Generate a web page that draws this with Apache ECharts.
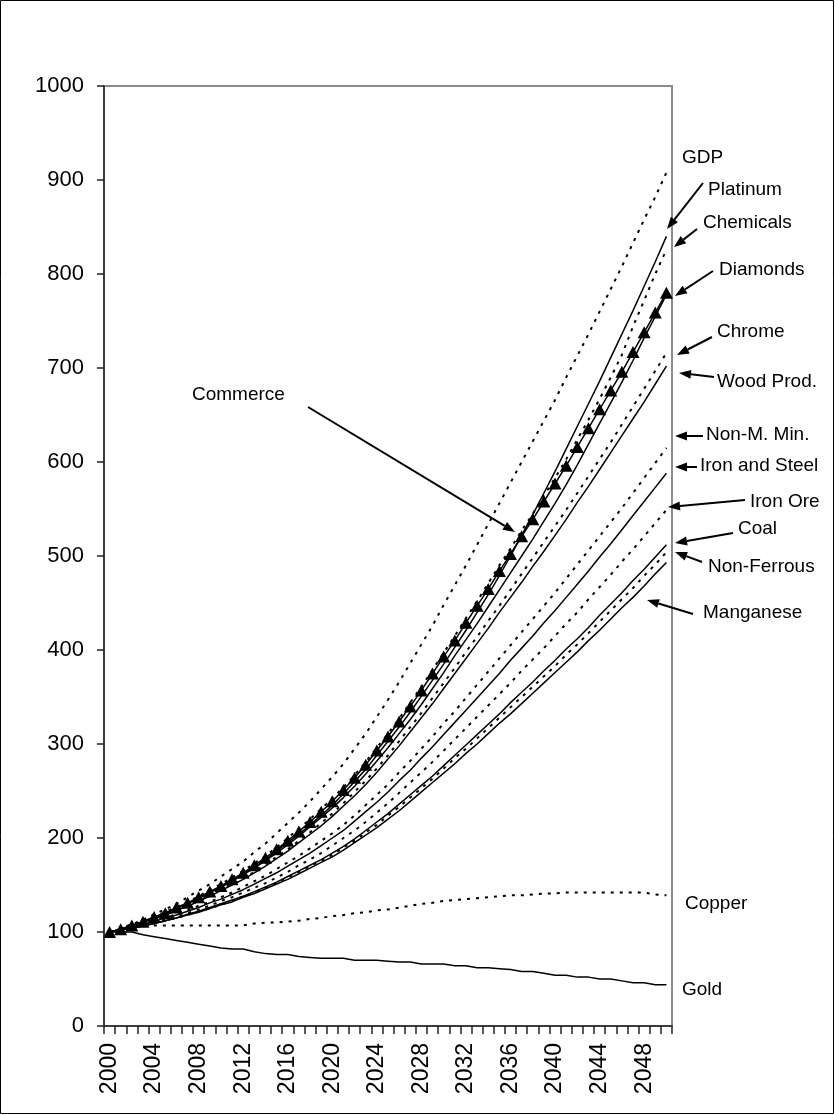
<!DOCTYPE html>
<html>
<head>
<meta charset="utf-8">
<script src="https://cdn.jsdelivr.net/npm/echarts@6/dist/echarts.min.js"></script>
<style>
html, body { margin: 0; padding: 0; background: #fff; }
#chart { width: 835px; height: 1115px; }
</style>
</head>
<body>
<div id="chart"></div>
<script>
// categories
const years = ['2000','2001','2002','2003','2004','2005','2006','2007','2008','2009',
  '2010','2011','2012','2013','2014','2015','2016','2017','2018','2019',
  '2020','2021','2022','2023','2024','2025','2026','2027','2028','2029',
  '2030','2031','2032','2033','2034','2035','2036','2037','2038','2039',
  '2040','2041','2042','2043','2044','2045','2046','2047','2048','2049','2050']

// index values (2000 = 100)
const gdp = [100,104,108,113,119,124,130,137,144,151,159,167,175,185,194,205,216,227,239,252,265,279,295,311,329,347,366,386,406,426,448,469,490,512,534,556,578,600,622,644,666,690,713,736,760,784,808,833,858,882,908]
const platinum = [100,103,107,111,115,120,125,130,136,142,148,155,162,169,177,186,195,204,214,224,235,247,260,273,288,303,318,334,351,368,385,403,421,440,459,479,500,522,544,567,590,614,638,662,686,711,736,761,787,813,840]
const chemicals = [100,104,108,112,117,121,127,132,138,145,151,158,165,173,181,190,200,210,220,231,242,254,267,281,296,311,327,344,361,379,397,415,434,452,471,490,508,527,545,564,583,603,624,645,667,690,714,744,772,800,826]
const commerce = [100,103,107,111,116,120,126,131,137,143,149,156,163,171,179,188,197,207,217,228,239,251,264,278,293,308,324,340,357,375,393,410,429,447,465,484,502,521,539,558,577,596,616,636,656,676,696,717,738,759,780]
const diamonds = [100,103,107,111,116,120,125,130,136,142,148,154,161,168,176,184,193,202,212,222,232,243,255,268,282,296,311,326,342,359,376,394,411,428,446,464,482,500,518,537,556,576,597,619,641,663,685,708,732,755,778]
const chrome = [100,103,106,110,114,118,123,128,133,139,145,151,157,164,172,180,188,197,206,216,226,237,249,261,274,288,303,318,333,349,365,381,398,414,431,447,464,481,498,515,532,549,567,585,603,621,640,659,678,697,716]
const woodProd = [100,103,106,110,114,118,123,127,133,138,144,150,156,163,170,178,186,195,204,213,223,234,245,257,270,284,298,313,328,343,359,375,391,407,423,440,456,472,489,505,522,539,557,574,592,610,628,646,664,683,702]
const nonMMin = [100,103,105,108,112,115,119,123,128,132,137,142,148,154,160,167,174,181,189,197,205,214,224,235,246,257,270,282,295,308,322,335,349,363,377,391,405,419,433,447,461,476,491,506,521,536,551,567,583,599,615]
const ironSteel = [100,102,105,108,111,115,118,122,126,131,135,140,145,151,157,163,170,177,184,192,200,208,218,228,238,249,261,272,285,297,310,323,336,349,362,375,389,402,415,429,442,456,470,484,499,513,528,543,558,573,588]
const ironOre = [100,102,105,107,110,113,117,120,124,128,133,137,142,147,152,158,164,171,177,184,192,200,208,217,227,237,248,259,270,281,293,305,317,329,341,353,365,378,390,402,415,428,440,454,467,480,494,507,521,535,549]
const coal = [100,102,104,107,109,112,115,119,122,126,130,134,138,143,148,153,159,165,171,177,184,191,199,208,217,226,236,246,256,266,277,288,299,310,321,332,344,355,366,378,389,401,412,424,437,449,461,474,486,499,512]
const nonFerrous = [100,102,104,107,109,112,115,118,122,125,129,133,138,142,147,152,158,164,170,176,182,190,197,206,214,224,233,243,253,263,274,285,295,306,317,328,339,350,361,372,383,395,406,418,430,442,454,466,479,491,504]
const manganese = [100,102,104,106,109,112,115,118,121,125,129,132,137,141,146,151,156,162,168,174,180,187,195,203,211,220,229,239,249,259,269,279,290,300,311,322,332,343,354,365,376,387,398,410,421,433,445,456,468,481,493]
const copper = [100,103,106,107,107,107,107,107,107,107,107,107,107,109,110,110,111,112,114,115,117,118,120,121,123,124,126,128,130,131,133,134,135,136,137,138,139,139,140,141,141,142,142,142,142,142,142,142,142,140,139]
const gold = [100,100,100,97,95,93,91,89,87,85,83,82,82,79,77,76,76,74,73,72,72,72,70,70,70,69,68,68,66,66,66,64,64,62,62,61,60,58,58,56,54,54,52,52,50,50,48,46,46,44,44]

const FONT = '"Liberation Sans", Arial, sans-serif'

function solid(name, data) {
    return {
        name: name, type: 'line', data: data, symbol: 'none', silent: true,
        lineStyle: { color: '#000', width: 1.5 }
    }
}
function dotted(name, data) {
    return {
        name: name, type: 'line', data: data, symbol: 'none', silent: true,
        lineStyle: { color: '#000', width: 2, type: [3, 6] }
    }
}

// annotation labels: [text, left x, middle y]
const labels = [
    ['GDP', 682, 158], ['Platinum', 708, 190], ['Chemicals', 703, 223],
    ['Diamonds', 719, 270], ['Chrome', 717, 332], ['Wood Prod.', 717, 382],
    ['Non-M. Min.', 706, 435], ['Iron and Steel', 700, 466], ['Iron Ore', 750, 502],
    ['Coal', 738, 529], ['Non-Ferrous', 708, 567], ['Manganese', 703, 613],
    ['Commerce', 192, 395], ['Copper', 685, 904], ['Gold', 682, 990]
]
// arrows: tail -> head
const arrows = [
    [703, 183, 667, 229], [697, 229, 674, 247], [713, 271, 675, 296],
    [712, 337, 677, 355], [714, 377, 679, 373], [703, 436, 675, 436],
    [697, 467, 675, 467], [745, 500, 668, 507], [733, 533, 675, 543],
    [702, 562, 675, 552], [693, 614, 647, 600], [308, 407, 515, 532]
]

function arrow(a) {
    let [x1, y1, x2, y2] = a
    let ang = Math.atan2(y2 - y1, x2 - x1)
    let L = 12, W = 4.5
    let bx = x2 - L * Math.cos(ang), by = y2 - L * Math.sin(ang)
    let px = -Math.sin(ang) * W, py = Math.cos(ang) * W
    return [
        { type: 'line', z: 50, shape: { x1: x1, y1: y1, x2: bx, y2: by }, style: { stroke: '#000', lineWidth: 2 } },
        { type: 'polygon', z: 50, shape: { points: [[x2, y2], [bx + px, by + py], [bx - px, by - py]] }, style: { fill: '#000' } }
    ]
}

let graphics = [
    { type: 'rect', z: 60, shape: { x: 0.5, y: 0.5, width: 833, height: 1113 }, style: { fill: 'none', stroke: '#000', lineWidth: 1 } }
]
labels.forEach(function (l) {
    graphics.push({
        type: 'text', z: 50,
        style: { text: l[0], x: l[1], y: l[2], font: '19px ' + FONT, fill: '#000', verticalAlign: 'middle' }
    })
})
arrows.forEach(function (a) { graphics = graphics.concat(arrow(a)) })
// the Gold label is cut off at the bottom in the original
graphics.push({ type: 'rect', z: 55, shape: { x: 676, y: 995, width: 70, height: 16 }, style: { fill: '#fff' } })

let myChart = echarts.init(document.getElementById('chart'))

let option = {
    animation: false,
    backgroundColor: '#fff',
    grid: {
        left: 104, top: 86, right: 163, bottom: 89,
        show: true, borderColor: '#8c8c8c', borderWidth: 2
    },
    xAxis: {
        type: 'category',
        data: years,
        boundaryGap: true,
        axisLine: { lineStyle: { color: '#222', width: 1.5 } },
        axisTick: { show: true, interval: 0, length: 8, lineStyle: { color: '#222', width: 1.5 } },
        axisLabel: { interval: 3, rotate: 90, fontSize: 23, color: '#000', margin: 17, fontFamily: FONT },
        splitLine: { show: false }
    },
    yAxis: {
        type: 'value',
        min: 0, max: 1000, interval: 100,
        axisLine: { show: true, lineStyle: { color: '#222', width: 1.5 } },
        axisTick: { show: true, length: 7, lineStyle: { color: '#222', width: 1.5 } },
        axisLabel: { fontSize: 22, color: '#000', margin: 20, fontFamily: FONT, formatter: function (v) { return String(v) } },
        splitLine: { show: false }
    },
    series: [
        dotted('GDP', gdp),
        solid('Platinum', platinum),
        dotted('Chemicals', chemicals),
        solid('Diamonds', diamonds),
        dotted('Chrome', chrome),
        solid('Wood Prod.', woodProd),
        dotted('Non-M. Min.', nonMMin),
        solid('Iron and Steel', ironSteel),
        dotted('Iron Ore', ironOre),
        solid('Coal', coal),
        dotted('Non-Ferrous', nonFerrous),
        solid('Manganese', manganese),
        dotted('Copper', copper),
        solid('Gold', gold),
        {
            name: 'Commerce', type: 'line', data: commerce, silent: true,
            symbol: 'triangle', symbolSize: [13, 12], showAllSymbol: true,
            itemStyle: { color: '#000' },
            lineStyle: { color: '#000', width: 1.5 }
        }
    ],
    graphic: graphics
}

myChart.setOption(option)
</script>
</body>
</html>
